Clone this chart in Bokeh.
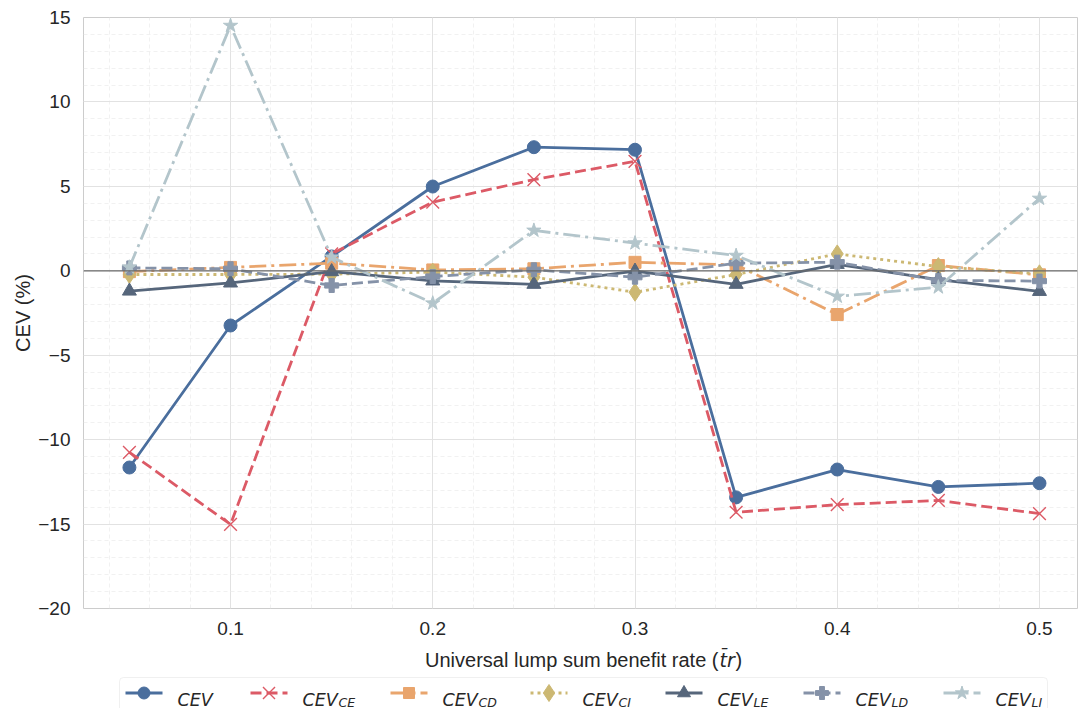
from bokeh.plotting import figure
from bokeh.layouts import column
from bokeh.models import Range1d, FixedTicker, Span, BoxAnnotation
from bokeh.core.properties import value
from bokeh.embed import file_html
from bokeh.resources import INLINE

# Universal lump sum benefit rate
rates = [0.05, 0.10, 0.15, 0.20, 0.25, 0.30, 0.35, 0.40, 0.45, 0.50]

# Consumption-equivalent variation (%) and its decomposition
cev = [-11.65, -3.24, 0.85, 4.99, 7.32, 7.17, -13.42, -11.77, -12.8, -12.58]
cev_ce = [-10.75, -15.02, 1.0, 4.07, 5.4, 6.48, -14.3, -13.85, -13.6, -14.38]
cev_cd = [-0.05, 0.2, 0.45, 0.05, 0.12, 0.5, 0.35, -2.59, 0.31, -0.24]
cev_ci = [-0.22, -0.22, -0.2, -0.08, -0.38, -1.27, -0.22, 1.0, 0.25, -0.18]
cev_le = [-1.2, -0.72, -0.05, -0.6, -0.8, -0.02, -0.8, 0.38, -0.52, -1.22]
cev_ld = [0.17, 0.12, -0.87, -0.34, 0.06, -0.38, 0.45, 0.51, -0.57, -0.61]
cev_li = [0.21, 14.52, 0.8, -1.92, 2.39, 1.64, 0.9, -1.52, -0.97, 4.28]

x_ticks = [0.1, 0.2, 0.3, 0.4, 0.5]
x_minor = [round(0.02 * i, 2) for i in range(1, 26)]
y_ticks = [-20, -15, -10, -5, 0, 5, 10, 15]
y_minor = list(range(-20, 16))

labels_main = ["CEV"] * 7
labels_sub = ["", "CE", "CD", "CI", "LE", "LD", "LI"]
x_title = "Universal lump sum benefit rate ("
x_symbol = "t\u0304r"
y_title = "CEV (%)"

INK = "#262626"
LW = 2.8
styles = [
    # colour, dash, marker, size, marker line width, filled
    ("#4a6e9d", "solid", "circle", 13, 1, True),
    ("#dc5a66", "11 5", "x", 18, 1.4, False),
    ("#e9a56d", "17 5 3 5", "square", 12, 1, True),
    ("#ccb873", "3 4", "diamond", 18, 1, True),
    ("#56667b", "solid", "triangle", 14, 1, True),
    ("#8592a8", "11 5", "plus", 14, 1, True),
    ("#b3c5cb", "17 5 3 5", "star", 15, 1, True),
]
series = [cev, cev_ce, cev_cd, cev_ci, cev_le, cev_ld, cev_li]

p = figure(
    width=1078, height=645,
    x_range=Range1d(0.0273, 0.5188), y_range=Range1d(-20, 15),
    output_backend="svg", toolbar_location=None,
    min_border_left=83, min_border_right=1, min_border_top=17, min_border_bottom=37,
)
p.background_fill_color = "white"
p.border_fill_color = "white"
p.outline_line_color = "#cccccc"
p.outline_line_width = 1

p.xaxis.ticker = FixedTicker(ticks=x_ticks, minor_ticks=x_minor)
p.yaxis.ticker = FixedTicker(ticks=y_ticks, minor_ticks=y_minor)
p.yaxis.major_label_overrides = {t: (f"\u2212{abs(t)}" if t < 0 else str(t)) for t in y_ticks}
p.xaxis.major_label_overrides = {t: f"{t:.1f}" for t in x_ticks}

for ax in (p.xaxis[0], p.yaxis[0]):
    ax.axis_line_color = None
    ax.major_tick_line_color = None
    ax.minor_tick_line_color = None
    ax.major_label_text_font = "Liberation Sans"
    ax.major_label_text_font_size = "19px"
    ax.major_label_text_color = INK
p.xaxis.major_label_standoff = 7
p.yaxis.major_label_standoff = 7
p.yaxis.axis_label = y_title
p.yaxis.axis_label_text_font = "Liberation Sans"
p.yaxis.axis_label_text_font_size = "20px"
p.yaxis.axis_label_text_font_style = "normal"
p.yaxis.axis_label_text_color = INK
p.yaxis.axis_label_standoff = 1

for g in (p.xgrid[0], p.ygrid[0]):
    g.grid_line_color = "#e2e2e2"
    g.grid_line_width = 1
    g.minor_grid_line_color = "#ededed"
    g.minor_grid_line_width = 0.8
    g.minor_grid_line_dash = "4 3"

p.add_layout(Span(location=0, dimension="width", line_color="#6a6a6a", line_width=1.2))

for vals, (col, dash, mk, sz, mlw, filled) in zip(series, styles):
    p.line(rates, vals, line_color=col, line_width=LW, line_dash=dash)
    p.scatter(rates, vals, marker=mk, size=sz, line_color=col, line_width=mlw,
              fill_color=col if filled else None)

# Strip below the chart (x title and legend). Its frame lines up with the chart's
# frame, so its x range is given in page pixels over that span.
lg = figure(
    width=1078, height=63,
    x_range=Range1d(83, 1077), y_range=Range1d(708, 645),
    output_backend="svg", toolbar_location=None,
    x_axis_location=None, y_axis_location=None,
    min_border_left=83, min_border_right=1, min_border_top=0, min_border_bottom=0,
)
lg.grid.visible = False
lg.outline_line_color = None
lg.background_fill_color = "white"
lg.border_fill_color = "white"

# x title: plain words, then the italic symbol
tb = 659
lg.text([718], [tb], text=[x_title], text_font=value("Liberation Sans"), text_font_size="20px",
        text_color=INK, text_align="right", text_baseline="alphabetic")
lg.text([719], [tb], text=[x_symbol], text_font=value("DejaVu Sans"), text_font_style="italic",
        text_font_size="19px", text_color=INK, text_align="left", text_baseline="alphabetic")
lg.text([735], [tb], text=[")"], text_font=value("Liberation Sans"), text_font_size="20px",
        text_color=INK, text_align="left", text_baseline="alphabetic")

handle_x = [125, 250, 390, 530, 665, 803, 943]
hy = 692.5
for x0, (col, dash, mk, sz, mlw, filled) in zip(handle_x, styles):
    lg.line([x0, x0 + 37], [hy, hy], line_color=col, line_width=LW, line_dash=dash)
    lg.scatter([x0 + 18.5], [hy], marker=mk, size=sz - 1, line_color=col, line_width=mlw,
               fill_color=col if filled else None)

text_x = [x + 52 for x in handle_x]
lg.text(text_x, [699] * 7, text=labels_main, text_font=value("DejaVu Sans"),
        text_font_style="italic", text_font_size="17.5px", text_color=INK,
        text_baseline="alphabetic", text_align="left")
sub_x = [x + 36 for x, s in zip(text_x, labels_sub) if s]
sub_t = [s for s in labels_sub if s]
lg.text(sub_x, [701.5] * len(sub_t), text=sub_t, text_font=value("DejaVu Sans"),
        text_font_style="italic", text_font_size="12.5px", text_color=INK,
        text_baseline="alphabetic", text_align="left")

# legend frame, behind the handles
lg.add_layout(BoxAnnotation(left=119, right=1047, top=677, bottom=730, border_radius=4,
                            fill_color="white", fill_alpha=1, line_color="#cccccc",
                            line_width=1, level="underlay"))

layout = column(p, lg, spacing=0)
open("out.html", "w").write(file_html(layout, INLINE))
